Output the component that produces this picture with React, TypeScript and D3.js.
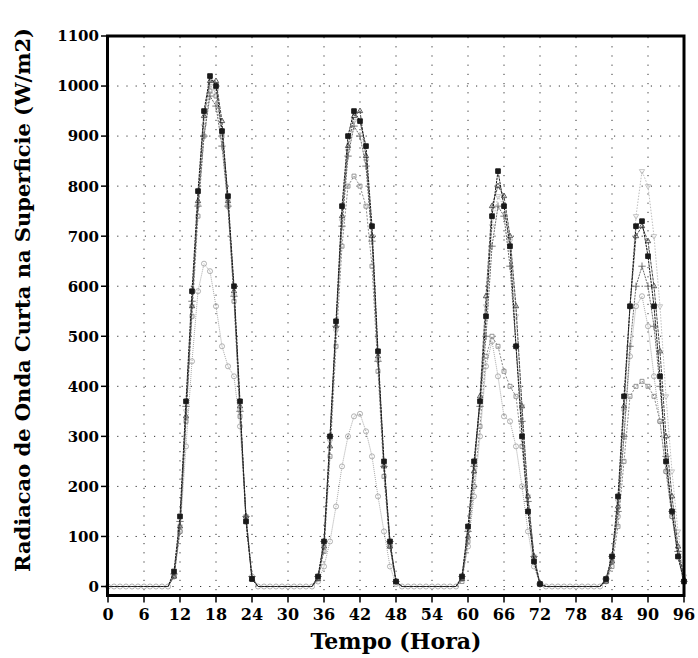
import React from "react";
import * as d3 from "d3";

// ---- data (hourly, 0..96 h) ----
const hours: number[] = d3.range(0, 97);

const xTicks = [0, 6, 12, 18, 24, 30, 36, 42, 48, 54, 60, 66, 72, 78, 84, 90, 96];
const yTicks = [0, 100, 200, 300, 400, 500, 600, 700, 800, 900, 1000, 1100];

const serieA = [
  0, 0, 0, 0, 0, 0, 0, 0, 0, 0,
  0, 30, 140, 370, 590, 790, 950, 1020, 1000, 910, 780, 600, 370, 130, 15,
  0, 0, 0, 0, 0, 0, 0, 0, 0,
  0, 20, 90, 300, 530, 760, 900, 950, 930, 880, 720, 470, 250, 90, 10,
  0, 0, 0, 0, 0, 0, 0, 0, 0,
  0, 20, 120, 250, 370, 540, 740, 830, 760, 680, 480, 300, 150, 50, 5,
  0, 0, 0, 0, 0, 0, 0, 0, 0,
  0, 15, 60, 180, 380, 560, 720, 730, 660, 560, 420, 250, 150, 60, 10,
];
const serieB = [
  0, 0, 0, 0, 0, 0, 0, 0, 0, 0,
  0, 20, 120, 340, 560, 770, 940, 1010, 1010, 930, 770, 590, 360, 140, 15,
  0, 0, 0, 0, 0, 0, 0, 0, 0,
  0, 15, 80, 280, 520, 740, 880, 940, 950, 860, 700, 460, 240, 80, 10,
  0, 0, 0, 0, 0, 0, 0, 0, 0,
  0, 15, 100, 230, 380, 580, 760, 800, 780, 700, 560, 360, 180, 60, 5,
  0, 0, 0, 0, 0, 0, 0, 0, 0,
  0, 10, 50, 160, 360, 560, 700, 720, 690, 600, 470, 300, 180, 80, 15,
];
const serieC = [
  0, 0, 0, 0, 0, 0, 0, 0, 0, 0,
  0, 25, 130, 360, 570, 760, 900, 980, 960, 880, 760, 580, 350, 140, 20,
  0, 0, 0, 0, 0, 0, 0, 0, 0,
  0, 20, 90, 300, 520, 720, 860, 920, 900, 840, 690, 450, 240, 90, 10,
  0, 0, 0, 0, 0, 0, 0, 0, 0,
  0, 20, 110, 240, 360, 500, 680, 760, 740, 640, 480, 330, 170, 60, 5,
  0, 0, 0, 0, 0, 0, 0, 0, 0,
  0, 15, 60, 150, 300, 480, 600, 640, 600, 520, 400, 260, 150, 70, 10,
];
const serieD = [
  0, 0, 0, 0, 0, 0, 0, 0, 0, 0,
  0, 20, 110, 280, 450, 590, 645, 630, 560, 480, 440, 420, 320, 140, 20,
  0, 0, 0, 0, 0, 0, 0, 0, 0,
  0, 10, 40, 90, 160, 240, 300, 340, 345, 310, 260, 180, 110, 40, 5,
  0, 0, 0, 0, 0, 0, 0, 0, 0,
  0, 15, 80, 180, 300, 440, 490, 420, 340, 330, 280, 200, 110, 40, 5,
  0, 0, 0, 0, 0, 0, 0, 0, 0,
  0, 10, 50, 140, 300, 460, 560, 580, 520, 420, 330, 230, 140, 60, 10,
];
const serieE = [
  0, 0, 0, 0, 0, 0, 0, 0, 0, 0,
  0, 20, 110, 330, 540, 740, 900, 990, 980, 900, 760, 570, 340, 130, 15,
  0, 0, 0, 0, 0, 0, 0, 0, 0,
  0, 15, 70, 260, 480, 680, 800, 820, 800, 760, 640, 430, 220, 80, 10,
  0, 0, 0, 0, 0, 0, 0, 0, 0,
  0, 10, 90, 200, 320, 460, 500, 480, 430, 400, 380, 280, 150, 50, 5,
  0, 0, 0, 0, 0, 0, 0, 0, 0,
  0, 10, 40, 120, 250, 380, 400, 410, 400, 380, 330, 230, 140, 60, 10,
];
const serieF = [
  0, 0, 0, 0, 0, 0, 0, 0, 0, 0,
  0, 20, 120, 350, 560, 760, 920, 1000, 990, 910, 770, 580, 350, 140, 15,
  0, 0, 0, 0, 0, 0, 0, 0, 0,
  0, 20, 80, 290, 510, 730, 870, 930, 930, 850, 700, 450, 240, 80, 10,
  0, 0, 0, 0, 0, 0, 0, 0, 0,
  0, 20, 110, 240, 370, 560, 720, 780, 760, 690, 540, 360, 180, 60, 5,
  0, 0, 0, 0, 0, 0, 0, 0, 0,
  0, 15, 60, 170, 350, 560, 740, 830, 800, 700, 560, 380, 230, 110, 20,
];

const seriesList = [
  { name: "F", values: serieF, color: "#bdbdbd", dash: "1.5,1.5", symbol: d3.symbolTriangle2, filled: false, rot: 180, zeroMarks: false },
  { name: "D", values: serieD, color: "#a8a8a8", dash: "1,1", symbol: d3.symbolCircle, filled: false, rot: 0, zeroMarks: true },
  { name: "E", values: serieE, color: "#8a8a8a", dash: "2,1.5", symbol: d3.symbolSquare2, filled: false, rot: 0, zeroMarks: false },
  { name: "C", values: serieC, color: "#6a6a6a", dash: "2,1", symbol: d3.symbolPlus, filled: false, rot: 0, zeroMarks: false },
  { name: "B", values: serieB, color: "#4a4a4a", dash: "3,1", symbol: d3.symbolTriangle2, filled: false, rot: 0, zeroMarks: false },
  { name: "A", values: serieA, color: "#1a1a1a", dash: "2.5,0.8", symbol: d3.symbolSquare, filled: true, rot: 0, zeroMarks: false },
];

const FONT = "'DejaVu Serif', serif";

export default function App() {
  const x = d3.scaleLinear().domain([0, 96]).range([108, 684]);
  const y = d3.scaleLinear().domain([0, 1100]).range([586.5, 36]);
  const frameBottom = 595.5;

  const line = d3
    .line<number>()
    .x((_, i) => x(hours[i]))
    .y((v) => y(v));

  return (
    <svg
      width={698}
      height={658}
      style={{ position: "absolute", left: 0, top: 0, background: "#fff" }}
    >
      <rect x={0} y={0} width={698} height={658} fill="#fff" />
      {/* grid */}
      <g stroke="#333" strokeWidth={1} strokeDasharray="1.2,8">
        {xTicks.slice(1, -1).map((t) => (
          <line key={"gx" + t} x1={x(t)} x2={x(t)} y1={37} y2={frameBottom} />
        ))}
        {yTicks.slice(0, -1).map((t) => (
          <line key={"gy" + t} x1={108} x2={683} y1={y(t)} y2={y(t)} />
        ))}
      </g>
      {/* series */}
      {seriesList.map((s) => (
        <g key={s.name}>
          <path
            d={line(s.values) || ""}
            fill="none"
            stroke={s.color}
            strokeWidth={1}
            strokeDasharray={s.dash}
          />
          {s.values.map((v, i) => {
            if (v === 0 && !s.zeroMarks) return null;
            const sym = d3.symbol().type(s.symbol).size(s.filled ? 22 : 20)();
            return (
              <path
                key={i}
                d={sym || ""}
                transform={`translate(${x(hours[i])},${y(v)}) rotate(${s.rot})`}
                fill={s.filled ? s.color : "none"}
                stroke={s.color}
                strokeWidth={0.9}
              />
            );
          })}
        </g>
      ))}
      {/* frame */}
      <rect
        x={107.5}
        y={36}
        width={684 - 107.5}
        height={frameBottom - 36}
        fill="none"
        stroke="#000"
        strokeWidth={3}
      />
      {/* y ticks */}
      {yTicks.map((t) => (
        <g key={"yt" + t}>
          <line x1={101} x2={107} y1={y(t)} y2={y(t)} stroke="#000" strokeWidth={1.5} />
          <text
            x={99}
            y={y(t)}
            dy="0.36em"
            textAnchor="end"
            fontFamily={FONT}
            fontWeight="bold"
            fontSize={15}
            fill="#000"
          >
            {t}
          </text>
        </g>
      ))}
      {/* x ticks */}
      {xTicks.map((t) => (
        <g key={"xt" + t}>
          <line x1={x(t)} x2={x(t)} y1={frameBottom} y2={frameBottom + 7} stroke="#000" strokeWidth={1.5} />
          <text
            x={x(t)}
            y={620}
            textAnchor="middle"
            fontFamily={FONT}
            fontWeight="bold"
            fontSize={16}
            fill="#000"
          >
            {t}
          </text>
        </g>
      ))}
      {/* titles */}
      <text
        x={396}
        y={649}
        textAnchor="middle"
        fontFamily={FONT}
        fontWeight="bold"
        fontSize={22}
        fill="#000"
      >
        Tempo (Hora)
      </text>
      <text
        transform="translate(30,300) rotate(-90)"
        textAnchor="middle"
        fontFamily={FONT}
        fontWeight="bold"
        fontSize={21}
        fill="#000"
      >
        Radiacao de Onda Curta na Superficie (W/m2)
      </text>
    </svg>
  );
}
